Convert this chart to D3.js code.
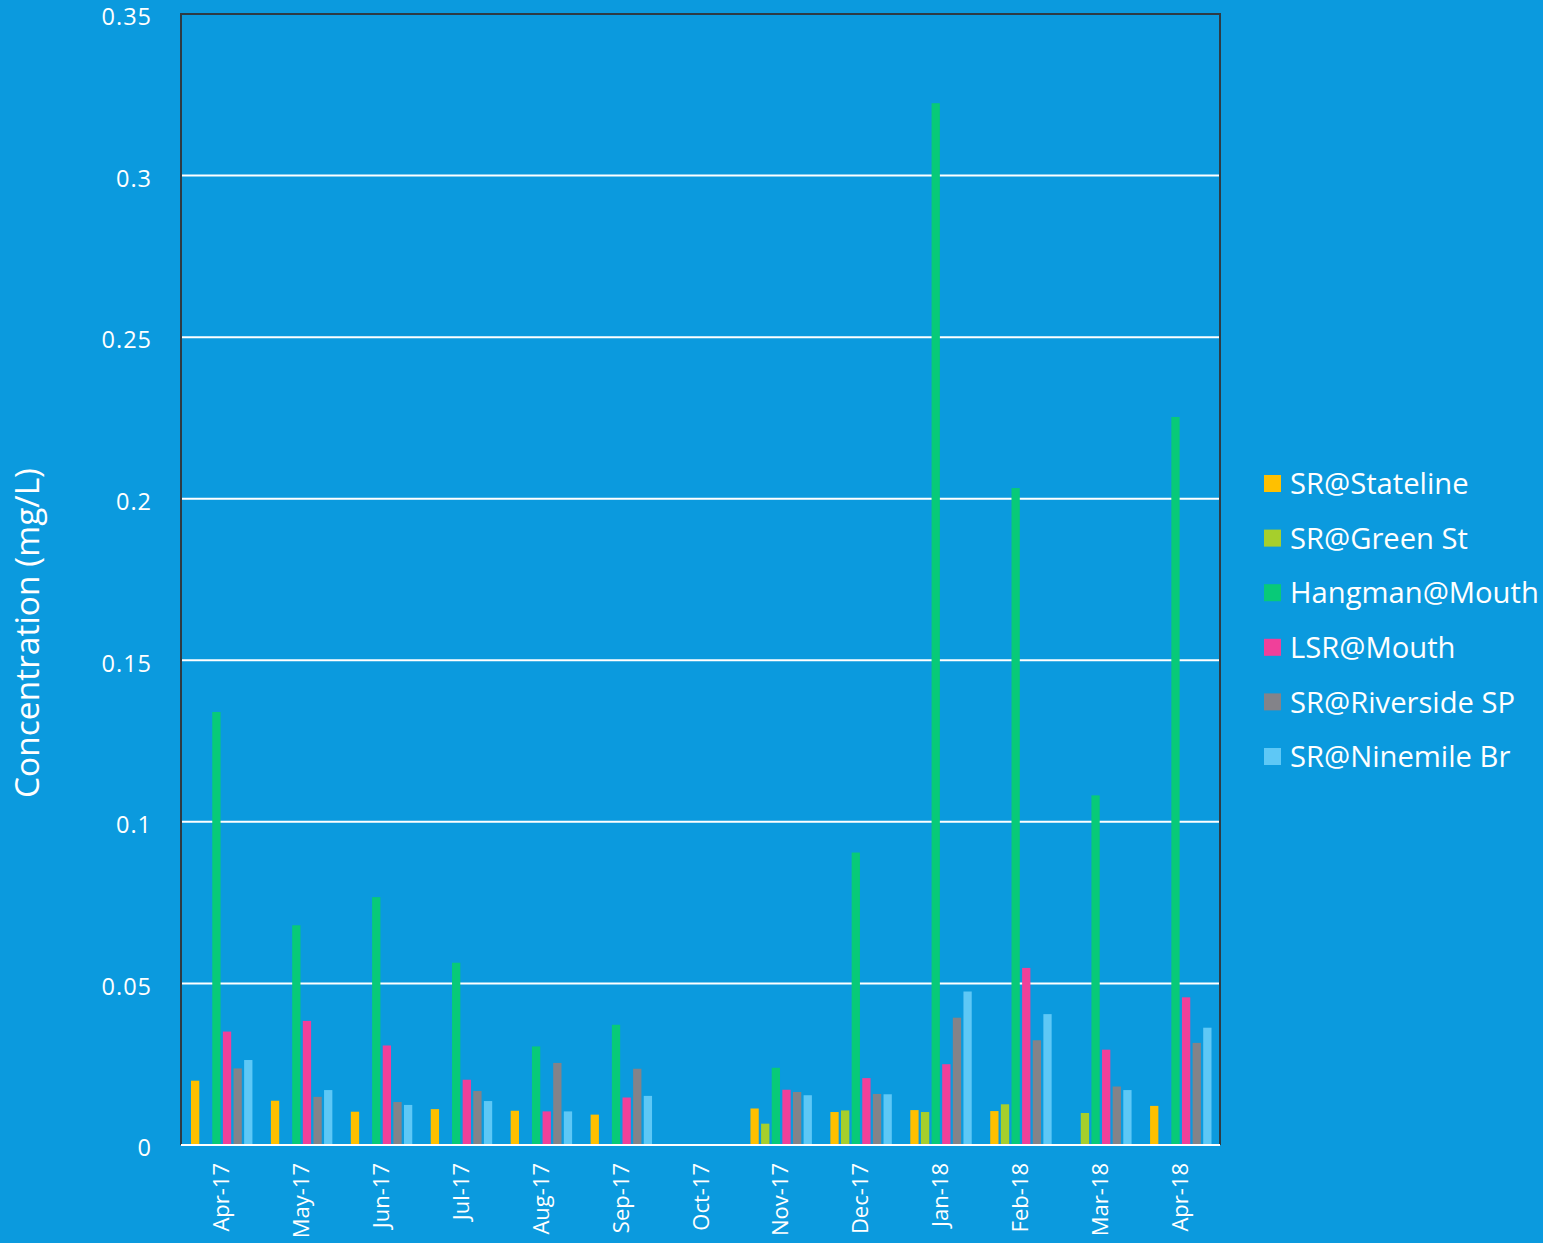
<!DOCTYPE html>
<html>
<head>
<meta charset="utf-8">
<script src="https://cdn.jsdelivr.net/npm/d3@7"></script>
<style>
  html, body { margin: 0; padding: 0; background: #0b9ade; }
  svg { display: block; }
  text { font-family: "Open Sans", "Noto Sans", sans-serif; fill: #ffffff; }
</style>
</head>
<body>
<svg id="chart" width="1543" height="1243"></svg>
<script>
// Monthly sampling dates
const months = ["Apr-17","May-17","Jun-17","Jul-17","Aug-17","Sep-17","Oct-17",
                "Nov-17","Dec-17","Jan-18","Feb-18","Mar-18","Apr-18"];

// Sampling stations (series)
const stations = ["SR@Stateline","SR@Green St","Hangman@Mouth","LSR@Mouth","SR@Riverside SP","SR@Ninemile Br"];
const stationColors = ["#ffc000","#a6cf2c","#08ca78","#f0409a","#838389","#5ec8f6"];

// Concentrations in mg/L, one value per month (null = no sample)
const srStateline  = [0.0199,0.0137,0.0103,0.0111,0.0106,0.0094,null,0.0113,0.0102,0.0108,0.0105,null,0.0121];
const srGreenSt    = [null,null,null,null,null,null,null,0.0066,0.0107,0.0102,0.0126,0.0099,null];
const hangmanMouth = [0.134,0.068,0.0767,0.0564,0.0305,0.0372,null,0.0239,0.0905,0.3224,0.2033,0.1082,0.2253];
const lsrMouth     = [0.0351,0.0384,0.0308,0.0202,0.0104,0.0147,null,0.0171,0.0207,0.025,0.0548,0.0295,0.0457];
const srRiverside  = [0.0237,0.0149,0.0133,0.0167,0.0254,0.0236,null,0.0164,0.0158,0.0394,0.0324,0.0181,0.0316];
const srNinemile   = [0.0263,0.017,0.0124,0.0136,0.0104,0.0152,null,0.0154,0.0157,0.0475,0.0405,0.017,0.0363];

const yTicks = [0,0.05,0.1,0.15,0.2,0.25,0.3,0.35];
const yTickLabels = ["0","0.05","0.1","0.15","0.2","0.25","0.3","0.35"];

const seriesValues = [srStateline, srGreenSt, hangmanMouth, lsrMouth, srRiverside, srNinemile];

const svg = d3.select("#chart");
const plot = { left: 181, top: 14, right: 1220, bottom: 1145 };

const x0 = d3.scaleBand().domain(months).range([plot.left, plot.right]).padding(0);
const x1 = d3.scaleBand().domain(stations)
  .range([10, x0.bandwidth() - 8.5]).paddingInner(0.22).paddingOuter(0);
const y = d3.scaleLinear().domain([0, 0.35]).range([plot.bottom, plot.top]);

// Horizontal gridlines
svg.append("g")
  .selectAll("line")
  .data(yTicks.filter(t => t > 0 && t < 0.35))
  .join("line")
  .attr("x1", plot.left).attr("x2", plot.right)
  .attr("y1", d => y(d)).attr("y2", d => y(d))
  .attr("stroke", "#ffffff").attr("stroke-width", 2);

// Bars
const rows = [];
months.forEach((m, i) => {
  stations.forEach((s, j) => {
    const v = seriesValues[j][i];
    if (v != null) rows.push({ month: m, station: s, value: v, color: stationColors[j] });
  });
});

svg.append("g")
  .selectAll("rect")
  .data(rows)
  .join("rect")
  .attr("x", d => x0(d.month) + x1(d.station))
  .attr("width", x1.bandwidth())
  .attr("y", d => y(d.value))
  .attr("height", d => y(0) - y(d.value))
  .attr("fill", d => d.color);

// Plot frame (left, top, right)
svg.append("path")
  .attr("d", `M${plot.left},${plot.bottom} V${plot.top} H${plot.right} V${plot.bottom}`)
  .attr("fill", "none").attr("stroke", "#2e3b44").attr("stroke-width", 2);

// X axis baseline
svg.append("line")
  .attr("x1", plot.left).attr("x2", plot.right)
  .attr("y1", plot.bottom).attr("y2", plot.bottom)
  .attr("stroke", "#ffffff").attr("stroke-width", 2);

// Y tick labels
svg.append("g")
  .selectAll("text")
  .data(yTicks)
  .join("text")
  .attr("x", 152)
  .attr("y", d => y(d) + 3)
  .attr("dy", "0.35em")
  .attr("text-anchor", "end")
  .attr("font-size", 23.5)
  .attr("letter-spacing", 1)
  .text((d, i) => yTickLabels[i]);

// X tick labels, rotated
svg.append("g")
  .selectAll("text")
  .data(months)
  .join("text")
  .attr("transform", d => `translate(${x0(d) + x0.bandwidth() / 2 + 8},${plot.bottom + 18}) rotate(-90)`)
  .attr("text-anchor", "end")
  .attr("font-size", 22)
  .text(d => d);

// Y axis title
svg.append("text")
  .attr("transform", `translate(39,633) rotate(-90)`)
  .attr("text-anchor", "middle")
  .attr("font-size", 33.5)
  .text("Concentration (mg/L)");

// Legend
const legend = svg.append("g")
  .selectAll("g")
  .data(stations)
  .join("g")
  .attr("transform", (d, i) => `translate(1264,${484 + i * 54.6})`);

legend.append("rect")
  .attr("x", 0).attr("y", -9)
  .attr("width", 17).attr("height", 17)
  .attr("fill", (d, i) => stationColors[i]);

legend.append("text")
  .attr("x", 26).attr("y", 0)
  .attr("dy", "0.35em")
  .attr("font-size", 29.2)
  .text(d => d);
</script>
</body>
</html>
